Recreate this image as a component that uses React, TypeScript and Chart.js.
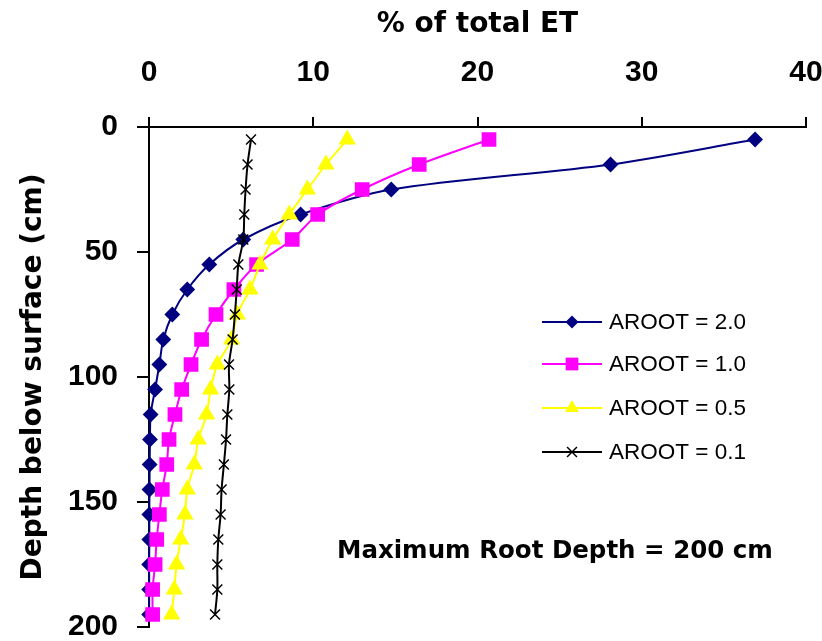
import React, { useEffect, useRef } from 'react';
import { Chart, registerables } from 'chart.js';

Chart.register(...registerables);

const depths = [5, 15, 25, 35, 45, 55, 65, 75, 85, 95, 105, 115, 125, 135, 145, 155, 165, 175, 185, 195];
const aroot20 = [36.9, 28.1, 14.75, 9.23, 5.74, 3.67, 2.33, 1.42, 0.87, 0.63, 0.37, 0.1, 0.06, 0.04, 0.03, 0.02, 0.02, 0.01, 0.01, 0.01];
const aroot10 = [20.7, 16.45, 12.98, 10.27, 8.72, 6.55, 5.17, 4.08, 3.2, 2.56, 1.99, 1.58, 1.22, 1.08, 0.81, 0.63, 0.47, 0.37, 0.22, 0.22];
const aroot05 = [12.07, 10.77, 9.64, 8.54, 7.53, 6.76, 6.15, 5.37, 5.03, 4.16, 3.75, 3.51, 3.0, 2.76, 2.33, 2.19, 1.93, 1.68, 1.54, 1.38];
const aroot01 = [6.21, 6.0, 5.88, 5.8, 5.74, 5.44, 5.34, 5.23, 5.09, 4.87, 4.89, 4.77, 4.69, 4.56, 4.42, 4.36, 4.22, 4.16, 4.16, 4.02];
const seriesLabels = ['AROOT = 2.0', 'AROOT = 1.0', 'AROOT = 0.5', 'AROOT = 0.1'];
const xTitle = '% of total ET';
const yTitle = 'Depth below surface (cm)';
const annotationText = 'Maximum Root Depth = 200 cm';

function drawMarker(ctx: CanvasRenderingContext2D, style: string, x: number, y: number, r: number, color: string) {
  ctx.save();
  ctx.fillStyle = color;
  ctx.strokeStyle = color;
  ctx.lineWidth = 1.5;
  ctx.beginPath();
  if (style === 'rectRot') {
    ctx.moveTo(x, y - r); ctx.lineTo(x + r, y); ctx.lineTo(x, y + r); ctx.lineTo(x - r, y); ctx.closePath(); ctx.fill();
  } else if (style === 'rect') {
    const s = r * Math.SQRT1_2;
    ctx.rect(x - s, y - s, 2 * s, 2 * s); ctx.fill();
  } else if (style === 'triangle') {
    ctx.moveTo(x, y - r); ctx.lineTo(x + r * 0.866, y + r / 2); ctx.lineTo(x - r * 0.866, y + r / 2); ctx.closePath(); ctx.fill();
  } else {
    const o = r * Math.SQRT1_2;
    ctx.moveTo(x - o, y - o); ctx.lineTo(x + o, y + o); ctx.moveTo(x + o, y - o); ctx.lineTo(x - o, y + o); ctx.stroke();
  }
  ctx.restore();
}

const overlayPlugin = {
  id: 'overlay',
  afterDraw(chart: any) {
    const ctx: CanvasRenderingContext2D = chart.ctx;
    ctx.save();
    const rows = [322, 364, 408, 452];
    chart.data.datasets.forEach((ds: any, i: number) => {
      const y = rows[i];
      ctx.strokeStyle = ds.borderColor;
      ctx.lineWidth = 2;
      ctx.beginPath();
      ctx.moveTo(542, y);
      ctx.lineTo(602, y);
      ctx.stroke();
      drawMarker(ctx, ds.pointStyle, 572, y, ds.pointRadius, ds.pointBackgroundColor);
      ctx.fillStyle = '#000';
      ctx.font = '22.5px "Liberation Sans", Arial, sans-serif';
      ctx.textBaseline = 'middle';
      ctx.textAlign = 'left';
      ctx.fillText(ds.label, 609, y + 1);
    });
    ctx.font = 'bold 24.5px "DejaVu Sans", sans-serif';
    ctx.textBaseline = 'alphabetic';
    ctx.fillText(annotationText, 337, 558);
    ctx.restore();
  },
};

const zeroPad = (s: any) => {
  s.paddingLeft = 0;
  s.paddingRight = 0;
  s.paddingTop = 0;
  s.paddingBottom = 0;
};

export default function App() {
  const ref = useRef<HTMLCanvasElement>(null);
  useEffect(() => {
    document.body.style.margin = '0';
    const mk = (vals: number[]) => vals.map((v, i) => ({ x: v, y: depths[i] }));
    const chart = new Chart(ref.current!, {
      type: 'line',
      data: {
        datasets: [
          { label: seriesLabels[0], data: mk(aroot20), borderColor: '#000080', backgroundColor: '#000080', pointBackgroundColor: '#000080', pointBorderColor: '#000080', pointStyle: 'rectRot', pointRadius: 6.5, borderWidth: 2, order: 3 },
          { label: seriesLabels[1], data: mk(aroot10), borderColor: '#FF00FF', backgroundColor: '#FF00FF', pointBackgroundColor: '#FF00FF', pointBorderColor: '#FF00FF', pointStyle: 'rect', pointRadius: 9, borderWidth: 2, order: 2 },
          { label: seriesLabels[2], data: mk(aroot05), borderColor: '#FFFF00', backgroundColor: '#FFFF00', pointBackgroundColor: '#FFFF00', pointBorderColor: '#FFFF00', pointStyle: 'triangle', pointRadius: 8, borderWidth: 2, order: 1 },
          { label: seriesLabels[3], data: mk(aroot01), borderColor: '#000000', backgroundColor: '#000000', pointBackgroundColor: '#000000', pointBorderColor: '#000000', pointStyle: 'crossRot', pointRadius: 7, pointBorderWidth: 1.5, borderWidth: 2, order: 0 },
        ] as any,
      },
      options: {
        animation: false,
        responsive: false,
        maintainAspectRatio: false,
        layout: { padding: { left: 0, top: 0, right: 16, bottom: 14 } },
        elements: { line: { tension: 0.3 } },
        datasets: { line: { clip: false } as any },
        plugins: { legend: { display: false }, tooltip: { enabled: false } },
        scales: {
          x: {
            type: 'linear',
            position: 'top',
            min: 0,
            max: 40,
            ticks: { stepSize: 10, color: '#000', padding: 26, font: { family: '"Liberation Sans", Arial, sans-serif', size: 30, weight: 'bold' } },
            grid: { drawOnChartArea: false, drawTicks: true, tickLength: 10, color: '#000', lineWidth: 2 },
            border: { display: true, color: '#000', width: 2 },
            title: { display: true, text: xTitle, color: '#000', padding: { top: 8, bottom: 0 }, font: { family: '"DejaVu Sans", sans-serif', size: 28, weight: 'bold' } },
            afterFit: (s: any) => { s.height = 127; zeroPad(s); },
          },
          y: {
            type: 'linear',
            reverse: true,
            min: 0,
            max: 200,
            ticks: { stepSize: 50, color: '#000', padding: 19, font: { family: '"Liberation Sans", Arial, sans-serif', size: 30, weight: 'bold' } },
            grid: { drawOnChartArea: false, drawTicks: true, tickLength: 12, color: '#000', lineWidth: 2 },
            border: { display: true, color: '#000', width: 2 },
            title: { display: true, text: yTitle, color: '#000', padding: { top: 17, bottom: 0 }, font: { family: '"DejaVu Sans", sans-serif', size: 28, weight: 'bold' } },
            afterFit: (s: any) => { s.width = 149; zeroPad(s); },
          },
        },
      } as any,
      plugins: [overlayPlugin],
    });
    return () => chart.destroy();
  }, []);
  return (
    <div style={{ position: 'absolute', left: 0, top: 0, width: 822, height: 641 }}>
      <canvas ref={ref} width={822} height={641} style={{ width: 822, height: 641, display: 'block' }} />
    </div>
  );
}
